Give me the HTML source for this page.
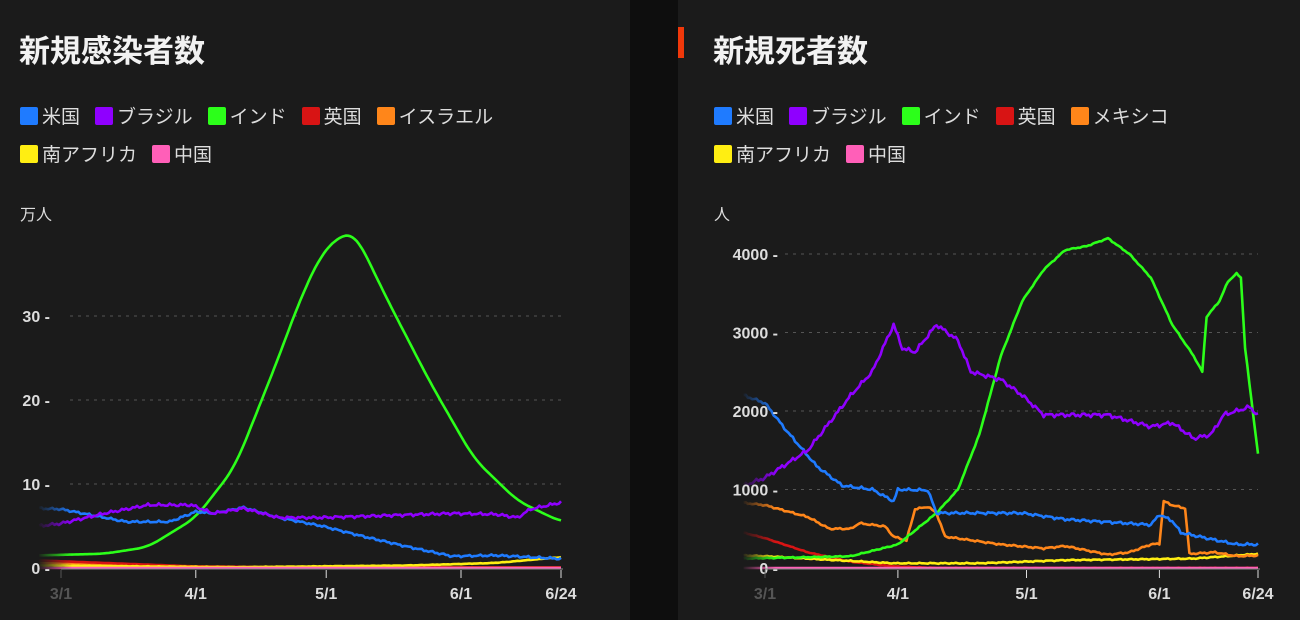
<!DOCTYPE html>
<html><head><meta charset="utf-8"><style>
body{margin:0;width:1300px;height:620px;background:#0e0e0e;overflow:hidden;font-family:"Liberation Sans","Noto Sans CJK JP",sans-serif;color:#eee}
.p{position:absolute;top:0;height:620px;background:#1b1b1b}
.t{position:absolute;top:26px;font-size:31px;font-weight:bold;color:#f2f2f2}
.lg{position:absolute;font-size:19px;color:#ddd;display:flex;gap:0}
.lg span{display:inline-flex;align-items:center;margin-right:15px}
.lg i{display:inline-block;width:18px;height:18px;border-radius:2px;margin-right:4px}
.u{position:absolute;top:201px;font-size:16px;color:#ddd}
svg{position:absolute;left:0;top:0}
</style></head><body>
<div class="p" style="left:0;width:630px"></div>
<div class="p" style="left:678px;width:622px"></div>
<div style="position:absolute;left:678px;top:27px;width:6px;height:31px;background:#f0380a"></div>
<div class="t" style="left:19px">新規感染者数</div>
<div class="t" style="left:713px">新規死者数</div>
<div class="lg" style="left:20px;top:102px"><span><i style="background:#1f7bff"></i>米国</span><span><i style="background:#8f00ff"></i>ブラジル</span><span><i style="background:#2cff1a"></i>インド</span><span><i style="background:#d81414"></i>英国</span><span><i style="background:#ff861a"></i>イスラエル</span></div>
<div class="lg" style="left:20px;top:140px"><span><i style="background:#ffee12"></i>南アフリカ</span><span><i style="background:#ff5fb8"></i>中国</span></div>
<div class="lg" style="left:714px;top:102px"><span><i style="background:#1f7bff"></i>米国</span><span><i style="background:#8f00ff"></i>ブラジル</span><span><i style="background:#2cff1a"></i>インド</span><span><i style="background:#d81414"></i>英国</span><span><i style="background:#ff861a"></i>メキシコ</span></div>
<div class="lg" style="left:714px;top:140px"><span><i style="background:#ffee12"></i>南アフリカ</span><span><i style="background:#ff5fb8"></i>中国</span></div>
<div class="u" style="left:20px">万人</div>
<div class="u" style="left:714px">人</div>
<svg id="s" width="1300" height="620" font-family="Liberation Sans, sans-serif" font-weight="bold"></svg>
<script>
const s=document.getElementById('s');let h='';
function interp(k,d){if(d<=k[0][0])return k[0][1];for(let i=0;i<k.length-1;i++){if(d>=k[i][0]&&d<=k[i+1][0]){const t=(d-k[i][0])/(k[i+1][0]-k[i][0]);return k[i][1]+t*(k[i+1][1]-k[i][1]);}}return k[k.length-1][1];}
function chart(o){
 const X=d=>o.x0+d*(o.x1-o.x0)/115, Y=v=>o.y0-v*o.sy;
 o.grid.forEach(g=>{const y=Y(g);if(g>0)h+=`<line x1="${o.gx}" x2="${o.x1}" y1="${y}" y2="${y}" stroke="#555" stroke-dasharray="3,5"/>`;});
 o.series.forEach(([c,k,j,sm])=>{let raw=[];const ds=[];for(let d=-5;d<=115;d+=0.5){ds.push(d);raw.push(interp(k,d));}
  let w=sm||0;let vals=raw.map((v,i)=>{if(!w)return v;let a=0,n=0;for(let q=-w;q<=w;q++){const r=raw[Math.min(raw.length-1,Math.max(0,i+q))];a+=r;n++;}return a/n;});
  let p=vals.map((v,i)=>{const d=ds[i];v+=j*(Math.sin(d*2.3)+Math.sin(d*5.1))*0.5;if(v<0)v=0;return X(d).toFixed(1)+','+Y(v).toFixed(1);});
  h+=`<polyline points="${p.join(' ')}" fill="none" stroke="${c}" stroke-width="2.6" stroke-linejoin="round"/>`;});
 h+=`<defs><linearGradient id="g${o.x0}"><stop offset="0" stop-color="#1b1b1b" stop-opacity="1"/><stop offset="1" stop-color="#1b1b1b" stop-opacity="0"/></linearGradient></defs><rect x="${X(-5)-2}" y="${o.y0-330}" width="${X(3)-X(-5)}" height="332" fill="url(#g${o.x0})"/>`;
 o.grid.forEach(g=>{const y=Y(g);h+=`<text x="${o.lx}" y="${y+6}" text-anchor="end" fill="#ddd" font-size="16">${g} -</text>`;});
 h+=`<line x1="${o.x0}" x2="${o.x1+2}" y1="${o.y0+1}" y2="${o.y0+1}" stroke="#888" stroke-width="1"/>`;
 [[0,'3/1','#555'],[31,'4/1','#ddd'],[61,'5/1','#ddd'],[92,'6/1','#ddd'],[115,'6/24','#ddd']].forEach(([d,l,c])=>{const x=X(d);h+=`<line x1="${x}" x2="${x}" y1="${o.y0+2}" y2="${o.y0+10}" stroke="${c}"/><text x="${x}" y="${o.y0+31}" text-anchor="middle" fill="${c}" font-size="16">${l}</text>`;});
}
chart({x0:61,x1:561,y0:568,sy:8.4,gx:70,lx:50,grid:[0,10,20,30],series:[
['#ff861a',[[-5,0.6],[30,0.1],[115,0.05]],0],
['#d81414',[[-5,0.9],[30,0.2],[60,0.05],[115,0.05]],0],
['#ffee12',[[-5,0.3],[40,0.1],[80,0.3],[100,0.6],[115,1.3]],0.03,6],
['#2cff1a',[[-5,1.5],[10,1.7],[20,2.5],[31,6],[40,12],[50,25],[55,32],[60,37.5],[63,39],[66,40],[68,39.5],[75,32],[85,22],[95,13],[105,8],[115,5.5]],0,5],
['#1f7bff',[[-5,7.1],[0,7],[15,5.5],[25,5.5],[31,6.7],[35,6.5],[42,7.2],[50,6],[60,5],[70,3.7],[80,2.5],[90,1.4],[100,1.5],[115,1.1]],0.15],
['#8f00ff',[[-5,5],[0,5.3],[10,6.5],[15,7],[20,7.5],[30,7.5],[35,6.5],[42,7.1],[50,6],[60,6],[90,6.5],[100,6.4],[105,6],[108,7],[115,7.8]],0.2],
['#ff5fb8',[[0,0],[115,0]],0]]});
chart({x0:765,x1:1258,y0:568,sy:0.0785,gx:785,lx:778,grid:[0,1000,2000,3000,4000],series:[
['#d81414',[[-5,450],[0,380],[10,200],[20,80],[30,20],[40,0],[115,0]],5],
['#ffee12',[[-5,160],[0,150],[30,60],[50,60],[70,100],[100,120],[115,180]],8],
['#ff861a',[[-5,830],[0,800],[10,650],[15,500],[20,500],[22,570],[28,530],[30,400],[33,350],[35,750],[38,780],[40,700],[42,400],[55,300],[65,250],[70,280],[80,170],[85,200],[90,300],[92,310],[93,850],[95,800],[98,760],[99,180],[105,200],[110,150],[115,160]],12],
['#2cff1a',[[-5,120],[20,150],[31,300],[40,700],[45,1000],[50,1700],[55,2700],[60,3400],[65,3800],[70,4050],[75,4100],[80,4200],[85,4000],[90,3700],[95,3100],[100,2700],[102,2500],[103,3200],[106,3400],[108,3650],[110,3750],[111,3700],[112,2800],[115,1450]],8],
['#1f7bff',[[-5,2200],[0,2100],[5,1750],[12,1300],[18,1050],[25,1000],[30,850],[31,1000],[38,990],[40,700],[60,700],[70,620],[90,550],[92,680],[95,600],[97,450],[103,380],[110,300],[115,300]],20],
['#8f00ff',[[-5,1050],[0,1150],[10,1500],[20,2200],[25,2500],[30,3100],[32,2800],[35,2750],[40,3100],[45,2900],[48,2500],[55,2400],[60,2200],[65,1950],[80,1950],[90,1800],[95,1850],[100,1650],[104,1700],[107,1950],[110,2000],[113,2050],[115,1950]],30],
['#ff5fb8',[[0,0],[115,0]],0]]});
s.innerHTML=h;
</script>
</body></html>
